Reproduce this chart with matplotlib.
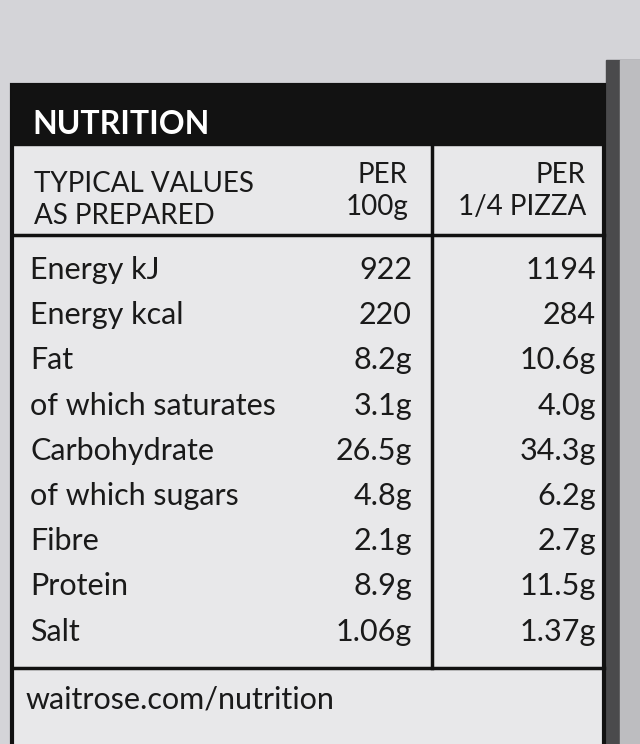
import matplotlib
matplotlib.use("Agg")
import matplotlib.pyplot as plt
from matplotlib.patches import Rectangle

title = "NUTRITION"
col_headers = ["TYPICAL VALUES\nAS PREPARED", "PER\n100g", "PER\n1/4 PIZZA"]
nutrients = ["Energy kJ", "Energy kcal", "Fat", "of which saturates", "Carbohydrate",
             "of which sugars", "Fibre", "Protein", "Salt"]
per_100g = ["922", "220", "8.2g", "3.1g", "26.5g", "4.8g", "2.1g", "8.9g", "1.06g"]
per_portion = ["1194", "284", "10.6g", "4.0g", "34.3g", "6.2g", "2.7g", "11.5g", "1.37g"]
footer = "waitrose.com/nutrition"

fig = plt.figure(figsize=(6.4, 7.44), dpi=100)
fig.patch.set_facecolor("#d4d4d8")
ax = fig.add_axes([0, 0, 1, 1])
ax.set_xlim(0, 640); ax.set_ylim(744, 0); ax.axis("off")
ff = "Lato"
ax.add_patch(Rectangle((606, 60), 34, 684, color="#4a4a4c"))
ax.add_patch(Rectangle((620, 60), 20, 684, color="#bdbdc0"))
# table body
ax.add_patch(Rectangle((12, 85), 592, 680, facecolor="#e8e8ea", edgecolor="#111", lw=3))
ax.add_patch(Rectangle((12, 85), 592, 60, color="#121212"))
ax.text(32, 124, title, color="white", fontsize=23, fontweight="bold", va="center", family=ff)
ax.plot([432, 432], [145, 668], color="#111", lw=2.5)
ax.plot([12, 604], [235, 235], color="#111", lw=2.5)
ax.plot([12, 604], [668, 668], color="#111", lw=2.5)
hs = 20
ax.text(34, 200, col_headers[0], fontsize=hs, va="center", ha="left", family=ff, linespacing=1.3, color="#1a1a1a")
ax.text(408, 191, col_headers[1], fontsize=hs, va="center", ha="right", family=ff, linespacing=1.3, color="#1a1a1a", multialignment="right")
ax.text(586, 191, col_headers[2], fontsize=hs, va="center", ha="right", family=ff, linespacing=1.3, color="#1a1a1a", multialignment="right")
y0, dy = 270, 45.2
fs = 22
for i, (n, a, b) in enumerate(zip(nutrients, per_100g, per_portion)):
    y = y0 + i * dy
    ax.text(30, y, n, fontsize=fs, va="center", ha="left", family=ff, color="#1a1a1a")
    ax.text(412, y, a, fontsize=fs, va="center", ha="right", family=ff, color="#1a1a1a")
    ax.text(596, y, b, fontsize=fs, va="center", ha="right", family=ff, color="#1a1a1a")
ax.text(26, 700, footer, fontsize=fs, va="center", ha="left", family=ff, color="#1a1a1a")
fig.savefig("out.png", dpi=100, facecolor=fig.get_facecolor())
